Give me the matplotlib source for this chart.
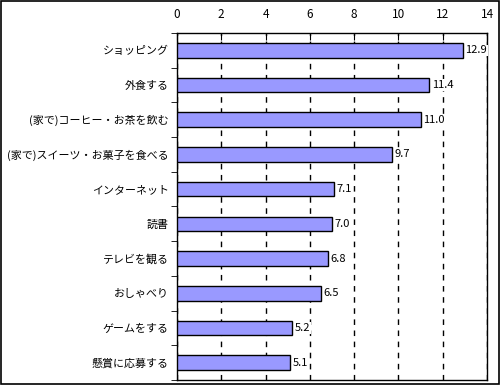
import numpy as np
import matplotlib.pyplot as plt
from matplotlib.patches import Rectangle

plt.rcParams['font.family'] = ['Noto Sans CJK JP', 'DejaVu Sans']

categories = ['ショッピング', '外食する', '(家で)コーヒー・お茶を飲む', '(家で)スイーツ・お菓子を食べる',
              'インターネット', '読書', 'テレビを観る', 'おしゃべり', 'ゲームをする', '懸賞に応募する']
values = [12.9, 11.4, 11.0, 9.7, 7.1, 7.0, 6.8, 6.5, 5.2, 5.1]
xticks = [0, 2, 4, 6, 8, 10, 12, 14]

fig = plt.figure(figsize=(5, 3.85), dpi=100)
ax = fig.add_axes([177/500, 5/385, 310/500, 347/385])

y = np.arange(len(categories))
ax.barh(y, values, height=0.42, color='#9999FF', edgecolor='black', linewidth=1, zorder=3)

for yi, v in zip(y, values):
    ax.text(v + 0.12, yi, f'{v:.1f}', va='center', ha='left', fontsize=8, zorder=4,
            bbox=dict(facecolor='white', edgecolor='none', pad=0.5))

ax.set_xlim(0, 14)
ax.set_ylim(len(categories) - 0.5, -0.5)
ax.set_xticks(xticks)
ax.xaxis.tick_top()
ax.tick_params(axis='x', direction='in', length=5, labelsize=8.5, pad=9)
ax.set_yticks(y)
ax.set_yticklabels(categories, fontsize=7.9)
ax.set_yticks(np.arange(len(categories) + 1) - 0.5, minor=True)
ax.tick_params(axis='y', which='major', length=0, pad=6)
ax.tick_params(axis='y', which='minor', length=4, direction='out')
ax.grid(axis='x', linestyle=(0, (4, 4)), color='black', linewidth=1, zorder=0)
for s in ax.spines.values():
    s.set_linewidth(1)

fig.add_artist(Rectangle((0.002, 0.002), 0.996, 0.996, transform=fig.transFigure,
                         fill=False, edgecolor='black', linewidth=1.2))

fig.savefig('out.png', dpi=100)
